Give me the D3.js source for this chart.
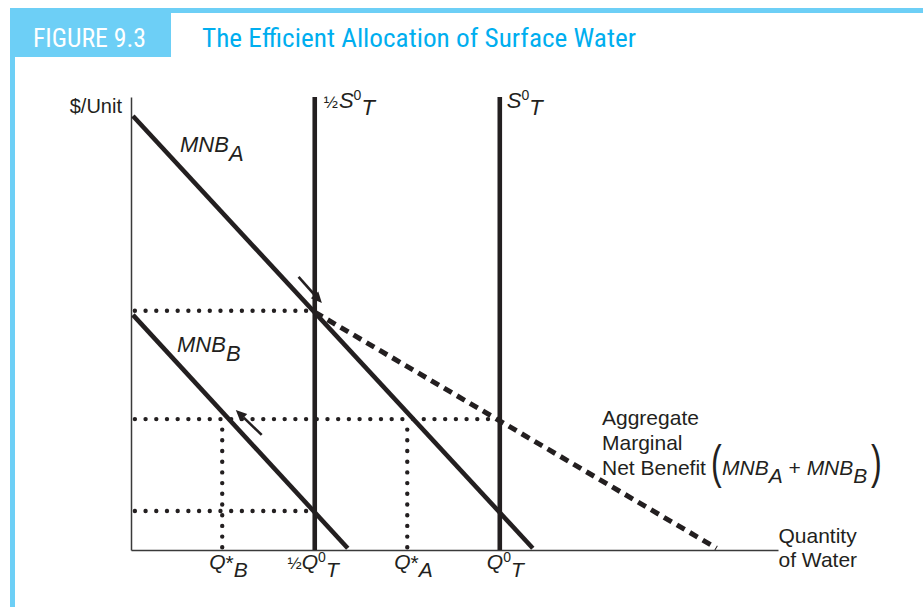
<!DOCTYPE html>
<html>
<head>
<meta charset="utf-8">
<script src="https://cdn.jsdelivr.net/npm/d3@7"></script>
<style>
  html, body { margin: 0; padding: 0; background: #fff; }
  svg { display: block; }
  .lbl { font-family: "Liberation Sans", Arial, Helvetica, sans-serif; fill: #231f20; }
</style>
</head>
<body>
<svg id="chart" width="923" height="607"></svg>
<script>
// ---------- DATA (chart units: quantity 0..100, $/unit 0..100) ----------
const figureNumber = "FIGURE 9.3";
const figureTitle = "The Efficient Allocation of Surface Water";
const yAxisLabel = "$/Unit";
const xAxisLabel = ["Quantity", "of Water"];

const mnbA = [[0.3, 95.8], [62.1, 0.4]];          // MNB_A demand line
const mnbB = [[0.3, 51.9], [33.5, 0.4]];          // MNB_B demand line
const aggregate = [[28.4, 52.5], [90.5, 0.4]];    // aggregate (dashed) kinked part
const halfSupplyQ = 28.4;                          // ½ S0T
const fullSupplyQ = 57.0;                          // S0T
const supplyTop = 100;

const priceLevels = [52.8, 28.9, 8.6];            // dotted horizontal levels
const priceLevelEnds = [28.4, 57.0, 28.4];        // quantity where each dotted line ends
const optimumQ = [14.1, 42.7];                     // Q*_B, Q*_A (dotted verticals)
const optimumPrice = 28.9;

const arrowTails = [[25.9, 60.3], [20.2, 25.4]];
const arrowTips  = [[29.5, 54.5], [16.2, 30.9]];

const tickValues = [14.1, 28.4, 42.7, 57.0];
const tickPre  = ["", "½", "", ""];
const tickMain = ["Q", "Q", "Q", "Q"];
const tickSup  = ["*", "0", "*", "0"];
const tickSub  = ["B", "T", "A", "T"];

// ---------- SETUP ----------
const svg = d3.select("#chart");
const x = d3.scaleLinear().domain([0, 100]).range([131, 778]);
const y = d3.scaleLinear().domain([0, 100]).range([550, 97]);
const ink = "#231f20";
const line = d3.line().x(d => x(d[0])).y(d => y(d[1]));

// ---------- FRAME ----------
const blue = "#6dcff6";
svg.append("rect").attr("x", 10).attr("y", 8).attr("width", 913).attr("height", 5).attr("fill", blue);
svg.append("rect").attr("x", 10).attr("y", 8).attr("width", 161).attr("height", 49).attr("fill", blue);
svg.append("rect").attr("x", 10).attr("y", 8).attr("width", 5).attr("height", 599).attr("fill", blue);

const condensed = '"Liberation Sans Narrow", "Roboto Condensed", "DejaVu Sans Condensed", "Liberation Sans", sans-serif';
svg.append("text").text(figureNumber)
  .attr("x", 33).attr("y", 47).attr("fill", "#fff")
  .style("font-family", condensed).style("font-size", "25px")
  .attr("textLength", 113).attr("lengthAdjust", "spacingAndGlyphs");
svg.append("text").text(figureTitle)
  .attr("x", 202).attr("y", 47).attr("fill", "#00aeef")
  .style("font-family", condensed).style("font-size", "25px")
  .attr("textLength", 434).attr("lengthAdjust", "spacingAndGlyphs");

// ---------- AXES ----------
const gx = svg.append("g").attr("transform", `translate(0,${y(0)})`)
  .call(d3.axisBottom(x).tickValues([]).tickSizeOuter(0));
const gy = svg.append("g").attr("transform", `translate(${x(0)},0)`)
  .call(d3.axisLeft(y).tickValues([]).tickSizeOuter(0));
[gx, gy].forEach(g => g.select(".domain").attr("stroke", "#3a3a3a").attr("stroke-width", 1.5));

// ---------- DOTTED GUIDES ----------
const dotStyle = sel => sel.attr("fill", "none").attr("stroke", ink).attr("stroke-width", 4.4)
  .attr("stroke-linecap", "round").attr("stroke-dasharray", "0 10.7");
priceLevels.forEach((p, i) => {
  svg.append("path").attr("d", line([[0.6, p], [priceLevelEnds[i] - 0.6, p]])).call(dotStyle);
});
optimumQ.forEach(q => {
  svg.append("path").attr("d", line([[q, 0.6], [q, optimumPrice - 1.2]])).call(dotStyle);
});

// ---------- SUPPLY VERTICALS ----------
[halfSupplyQ, fullSupplyQ].forEach(q => {
  svg.append("path").attr("d", line([[q, 0], [q, supplyTop]]))
    .attr("stroke", ink).attr("stroke-width", 4.6).attr("fill", "none");
});

// ---------- DEMAND LINES ----------
[mnbA, mnbB].forEach(d => {
  svg.append("path").attr("d", line(d)).attr("stroke", ink).attr("stroke-width", 4.6).attr("fill", "none");
});
svg.append("path").attr("d", line(aggregate)).attr("stroke", ink).attr("stroke-width", 5)
  .attr("fill", "none").attr("stroke-dasharray", "9 6");

// ---------- ARROWS ----------
arrowTails.forEach((t, i) => {
  const x0 = x(t[0]), y0 = y(t[1]), x1 = x(arrowTips[i][0]), y1 = y(arrowTips[i][1]);
  const ang = Math.atan2(y1 - y0, x1 - x0);
  const hl = 11, hw = 5;
  const bx = x1 - hl * Math.cos(ang), by = y1 - hl * Math.sin(ang);
  svg.append("line").attr("x1", x0).attr("y1", y0).attr("x2", bx).attr("y2", by)
    .attr("stroke", ink).attr("stroke-width", 2.6);
  const px = -Math.sin(ang) * hw, py = Math.cos(ang) * hw;
  svg.append("path")
    .attr("d", `M${x1},${y1}L${bx + px},${by + py}L${bx - px},${by - py}Z`)
    .attr("fill", ink);
});

// ---------- LABELS ----------
function rich(xp, yp, parts, size = 20) {
  const t = svg.append("text").attr("class", "lbl").attr("x", xp).attr("y", yp).style("font-size", size + "px");
  parts.forEach(p => {
    const s = t.append("tspan").text(p.t);
    if (p.i) s.style("font-style", "italic");
    if (p.s) s.style("font-size", p.s + "px");
    if (p.dy) s.attr("dy", p.dy);
    if (p.dx) s.attr("dx", p.dx);
  });
  return t;
}

rich(122, 113, [{ t: yAxisLabel }], 20).attr("text-anchor", "end");
rich(x(100) + 0.5, 543, [{ t: xAxisLabel[0] }], 21);
rich(x(100) + 0.5, 567, [{ t: xAxisLabel[1] }], 21);

rich(180, 152, [{ t: "MNB", i: 1 }, { t: "A", i: 1, dy: 9 }], 22);
rich(177, 352, [{ t: "MNB", i: 1 }, { t: "B", i: 1, dy: 9 }], 22);

// supply labels at top
rich(x(halfSupplyQ) + 9, 108, [{ t: "½", s: 17 }, { t: "S", i: 1, dx: 1 }, { t: "0", s: 14, dy: -8 }, { t: "T", i: 1, dy: 15 }], 22);
rich(x(fullSupplyQ) + 7, 108, [{ t: "S", i: 1 }, { t: "0", s: 14, dy: -8 }, { t: "T", i: 1, dy: 15 }], 22);

// aggregate label
rich(602, 425, [{ t: "Aggregate" }], 21);
rich(602, 450, [{ t: "Marginal" }], 21);
rich(602, 475, [{ t: "Net Benefit" }], 21);
svg.append("text").attr("class", "lbl").text("(")
  .attr("transform", "translate(711,478) scale(0.7,1)").style("font-size", "46px").style("font-weight", "300");
rich(722, 475, [{ t: "MNB", i: 1 }, { t: "A", i: 1, dy: 8 }, { t: " + ", dy: -8 }, { t: "MNB", i: 1 }, { t: "B", i: 1, dy: 8 }], 21);
svg.append("text").attr("class", "lbl").text(")")
  .attr("transform", "translate(871,478) scale(0.7,1)").style("font-size", "46px").style("font-weight", "300");

// x tick labels
tickValues.forEach((v, i) => {
  const qx = x(v) - 13;
  const star = tickSup[i] === "*";
  if (tickPre[i]) rich(qx, 569, [{ t: tickPre[i], s: 17 }], 21).attr("text-anchor", "end");
  rich(qx, 569, [
    { t: tickMain[i], i: 1 },
    { t: tickSup[i], s: star ? 21 : 14, dy: star ? 1 : -7 },
    { t: tickSub[i], i: 1, dy: star ? 7 : 15 }
  ], 21);
});
</script>
</body>
</html>
